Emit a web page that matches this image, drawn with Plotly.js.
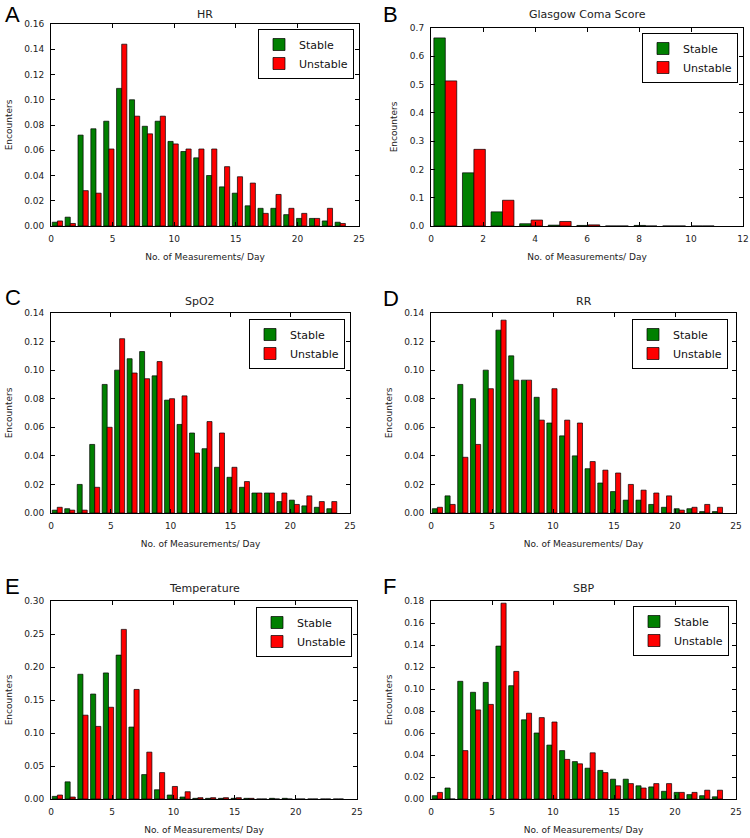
<!DOCTYPE html>
<html>
<head>
<meta charset="utf-8">
<script src="https://cdn.plot.ly/plotly-3.0.1.min.js"></script>
<style>
html,body{margin:0;padding:0;background:#fff;}
#chart{width:750px;height:838px;}
</style>
</head>
<body>
<div id="chart"></div>
<script>
// ---------- data (fraction of encounters per bin of measurements/day) ----------
const seriesNames = ['Stable', 'Unstable'];

// Vitals histograms: 23 bins over 0..24 measurements/day
const vitalsBinCount = 23;
const vitalsBinRange = [0, 24];
// GCS histogram: 10 bins over 0..11 measurements/day
const gcsBinCount = 10;
const gcsBinRange = [0, 11];

const hrStable     = [0.003, 0.007, 0.072, 0.077, 0.083, 0.109, 0.100, 0.079, 0.083, 0.067, 0.059, 0.054, 0.040, 0.031, 0.026, 0.016, 0.014, 0.014, 0.009, 0.006, 0.006, 0.004, 0.003];
const hrUnstable   = [0.004, 0.002, 0.028, 0.026, 0.061, 0.144, 0.087, 0.073, 0.087, 0.065, 0.061, 0.061, 0.061, 0.047, 0.039, 0.034, 0.010, 0.025, 0.014, 0.010, 0.006, 0.014, 0.002];

const gcsStable    = [0.665, 0.188, 0.050, 0.008, 0.003, 0.002, 0.000, 0.002, 0.000, 0.000];
const gcsUnstable  = [0.513, 0.271, 0.091, 0.021, 0.016, 0.004, 0.000, 0.000, 0.000, 0.000];

const spo2Stable   = [0.002, 0.003, 0.020, 0.048, 0.090, 0.100, 0.108, 0.113, 0.096, 0.079, 0.062, 0.056, 0.045, 0.032, 0.025, 0.018, 0.014, 0.014, 0.008, 0.009, 0.005, 0.004, 0.003];
const spo2Unstable = [0.004, 0.002, 0.002, 0.018, 0.060, 0.122, 0.098, 0.094, 0.106, 0.080, 0.082, 0.042, 0.064, 0.056, 0.032, 0.022, 0.014, 0.014, 0.014, 0.006, 0.012, 0.008, 0.008];

const rrStable     = [0.003, 0.012, 0.090, 0.080, 0.100, 0.128, 0.110, 0.093, 0.081, 0.063, 0.054, 0.040, 0.031, 0.021, 0.015, 0.009, 0.009, 0.006, 0.004, 0.003, 0.003, 0.001, 0.001];
const rrUnstable   = [0.004, 0.006, 0.039, 0.048, 0.087, 0.135, 0.093, 0.093, 0.065, 0.087, 0.065, 0.063, 0.036, 0.030, 0.028, 0.020, 0.016, 0.014, 0.012, 0.002, 0.004, 0.006, 0.004];

const tempStable   = [0.004, 0.026, 0.189, 0.159, 0.191, 0.218, 0.109, 0.037, 0.014, 0.006, 0.003, 0.001, 0.001, 0.001, 0.001, 0.001, 0.000, 0.001, 0.001, 0.000, 0.000, 0.000, 0.000];
const tempUnstable = [0.006, 0.003, 0.127, 0.110, 0.139, 0.257, 0.166, 0.071, 0.040, 0.019, 0.011, 0.002, 0.002, 0.002, 0.002, 0.001, 0.000, 0.000, 0.000, 0.000, 0.000, 0.000, 0.000];

const sbpStable    = [0.003, 0.010, 0.107, 0.097, 0.106, 0.139, 0.103, 0.072, 0.060, 0.049, 0.044, 0.034, 0.028, 0.026, 0.018, 0.018, 0.012, 0.011, 0.007, 0.006, 0.004, 0.003, 0.002];
const sbpUnstable  = [0.006, 0.000, 0.044, 0.081, 0.086, 0.178, 0.116, 0.078, 0.074, 0.070, 0.036, 0.032, 0.042, 0.024, 0.012, 0.014, 0.010, 0.014, 0.014, 0.006, 0.006, 0.008, 0.008];

const panelLetters = ['A', 'B', 'C', 'D', 'E', 'F'];
const panelTitles  = ['HR', 'Glasgow Coma Score', 'SpO2', 'RR', 'Temperature', 'SBP'];
const xAxisLabel = 'No. of Measurements/ Day';
const yAxisLabel = 'Encounters';

// ---------- layout geometry (pixels in the 750x838 figure) ----------
const W = 750, H = 838;
const FONT = 'DejaVu Sans, Bitstream Vera Sans, sans-serif';

function binCenters(count, range) {
  const w = (range[1] - range[0]) / count;
  const c = [];
  for (let i = 0; i < count; i++) c.push(range[0] + (i + 0.5) * w);
  return c;
}

const panels = [
  {stable: hrStable,   unstable: hrUnstable,   bins: [vitalsBinCount, vitalsBinRange], box: [51, 359, 24, 226],  yr: [0, 0.16], ydt: 0.02, yfmt: '.2f', xr: [0, 25], xdt: 5, leg: [354, 29],  letter: [3, 0],   title: 14},
  {stable: gcsStable,  unstable: gcsUnstable,  bins: [gcsBinCount, gcsBinRange],       box: [431, 743, 28, 226], yr: [0, 0.7],  ydt: 0.1,  yfmt: '.1f', xr: [0, 12], xdt: 2, leg: [738, 33],  letter: [381, 0], title: 14},
  {stable: spo2Stable, unstable: spo2Unstable, bins: [vitalsBinCount, vitalsBinRange], box: [51, 350, 313, 513], yr: [0, 0.14], ydt: 0.02, yfmt: '.2f', xr: [0, 25], xdt: 5, leg: [345, 319], letter: [3, 283],  title: 301},
  {stable: rrStable,   unstable: rrUnstable,   bins: [vitalsBinCount, vitalsBinRange], box: [431, 736, 313, 513], yr: [0, 0.14], ydt: 0.02, yfmt: '.2f', xr: [0, 25], xdt: 5, leg: [728, 319], letter: [381, 284], title: 301},
  {stable: tempStable, unstable: tempUnstable, bins: [vitalsBinCount, vitalsBinRange], box: [51, 357, 601, 799], yr: [0, 0.30], ydt: 0.05, yfmt: '.2f', xr: [0, 25], xdt: 5, leg: [352, 607], letter: [3, 572],  title: 588},
  {stable: sbpStable,  unstable: sbpUnstable,  bins: [vitalsBinCount, vitalsBinRange], box: [431, 736, 601, 799], yr: [0, 0.18], ydt: 0.02, yfmt: '.2f', xr: [0, 25], xdt: 5, leg: [729, 606], letter: [381, 572], title: 588}
];

const colors = ['#008000', '#ff0000'];
const traces = [];
const layout = {
  width: W, height: H,
  margin: {l: 0, r: 0, t: 0, b: 0},
  paper_bgcolor: '#fff', plot_bgcolor: '#fff',
  barmode: 'group', bargap: 0.2, bargroupgap: 0,
  font: {family: FONT, color: '#222'},
  annotations: [],
  showlegend: true
};

panels.forEach((p, i) => {
  const n = i === 0 ? '' : String(i + 1);
  const legName = 'legend' + n;
  const xs = binCenters(p.bins[0], p.bins[1]);
  [p.stable, p.unstable].forEach((vals, s) => {
    traces.push({
      type: 'bar',
      x: xs, y: vals,
      name: seriesNames[s],
      xaxis: 'x' + n, yaxis: 'y' + n,
      legend: legName,
      marker: {color: colors[s], line: {color: '#000', width: 0.7}},
      hoverinfo: 'x+y+name'
    });
  });
  const [x0, x1, y0, y1] = p.box;
  const common = {
    ticks: 'inside', ticklen: 4, tickwidth: 1, tickcolor: '#000',
    mirror: 'ticks', showline: true, linecolor: '#000', linewidth: 1,
    showgrid: false, zeroline: false, fixedrange: true,
    tickfont: {family: FONT, size: 9, color: '#222'}
  };
  layout['xaxis' + n] = Object.assign({}, common, {
    domain: [x0 / W, x1 / W], anchor: 'y' + n,
    range: p.xr, tick0: 0, dtick: p.xdt, ticklabelstandoff: 4,
    title: {text: xAxisLabel, font: {family: FONT, size: 9, color: '#222'}, standoff: 10}
  });
  layout['yaxis' + n] = Object.assign({}, common, {
    domain: [1 - y1 / H, 1 - y0 / H], anchor: 'x' + n,
    range: p.yr, tick0: 0, dtick: p.ydt, tickformat: p.yfmt, ticklabelstandoff: 4,
    title: {text: yAxisLabel, font: {family: FONT, size: 9, color: '#222'}, standoff: 10}
  });
  layout[legName] = {
    x: p.leg[0] / W, xanchor: 'right', y: 1 - p.leg[1] / H, yanchor: 'top',
    xref: 'paper', yref: 'paper',
    bgcolor: '#fff', bordercolor: '#000', borderwidth: 1,
    font: {family: FONT, size: 11, color: '#111'},
    tracegroupgap: 0
  };
  layout.annotations.push({
    text: panelTitles[i], xref: 'paper', yref: 'paper',
    x: (x0 + x1) / 2 / W, y: 1 - p.title / H, xanchor: 'center', yanchor: 'middle',
    showarrow: false, font: {family: FONT, size: 11, color: '#222'}
  });
  layout.annotations.push({
    text: panelLetters[i], xref: 'paper', yref: 'paper',
    x: p.letter[0] / W, y: 1 - p.letter[1] / H, xanchor: 'left', yanchor: 'top',
    showarrow: false, font: {family: 'Liberation Sans, Arial, sans-serif', size: 22, color: '#000'}
  });
});

Plotly.newPlot('chart', traces, layout, {displayModeBar: false, staticPlot: true});
</script>
</body>
</html>
